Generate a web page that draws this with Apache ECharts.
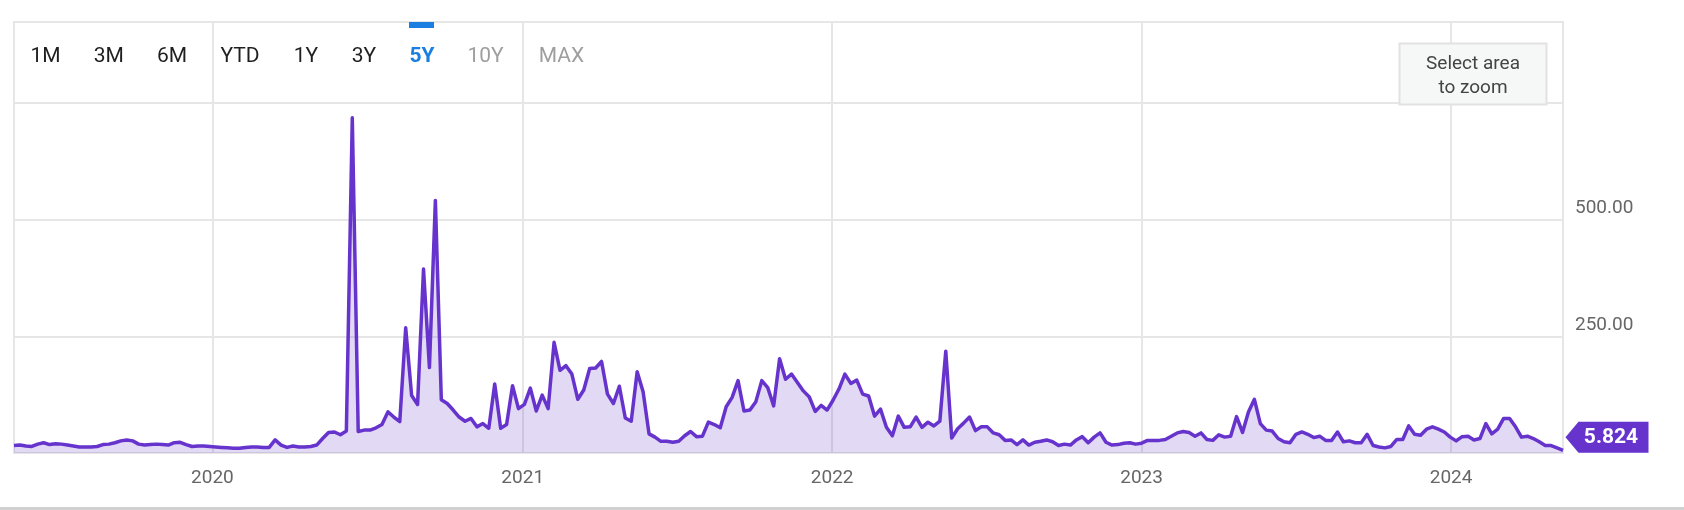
<!DOCTYPE html>
<html>
<head>
<meta charset="utf-8">
<script src="https://cdn.jsdelivr.net/npm/echarts@6/dist/echarts.min.js"></script>
<style>
html,body{margin:0;padding:0;background:#fff;}
#c{width:1684px;height:510px;}
</style>
</head>
<body>
<div id="c"></div>
<script>
// ---- data ----
const startDate = '2019-05-12';
const endDate = '2024-05-12';
const values = [
  16,17,15,14,19,22,18,20,19,17,15,13,13,13,14,18,19,22,26,28,
  26,19,17,18,19,18,17,22,23,18,14,15,15,14,13,12,11,10,10,12,
  13,13,12,12,28,17,12,15,13,13,14,17,31,44,45,39,47,718,46,49,
  49,54,61,88,77,67,268,123,104,394,183,541,114,106,92,77,68,74,56,63,
  53,148,53,61,144,95,104,139,90,124,95,237,177,187,169,115,135,181,182,196,
  126,106,143,75,68,174,131,41,34,25,25,23,25,37,46,35,36,66,61,54,
  99,119,155,90,92,110,155,140,101,202,158,169,151,133,120,89,102,92,113,137,
  169,149,156,126,122,79,94,55,37,79,55,56,77,55,66,58,68,218,32,52,
  64,77,48,56,56,43,39,27,28,18,28,17,23,25,28,24,16,19,17,28,
  35,22,34,43,23,17,18,21,22,19,21,27,27,27,29,36,43,46,44,36,
  43,29,27,39,34,36,78,44,88,115,63,49,47,31,24,22,40,45,40,33,
  36,27,27,45,24,26,22,22,40,16,13,11,14,29,29,58,40,38,51,56,
  51,45,34,26,35,36,28,31,63,41,51,74,74,56,34,36,31,24,16,16,
  11,5.824
];
const yearTicks = [2020, 2021, 2022, 2023, 2024];
const yTickLabels = [250, 500];
const rangeButtons = ['1M','3M','6M','YTD','1Y','3Y','5Y','10Y','MAX'];
const activeButton = '5Y';
const disabledButtons = ['10Y','MAX'];
const zoomHint = 'Select area\nto zoom';

// weekly sampling dates
function fmt(d){const m=d.getMonth()+1, dd=d.getDate();return d.getFullYear()+'-'+(m<10?'0':'')+m+'-'+(dd<10?'0':'')+dd;}
const dates = [];
(function(){const p=startDate.split('-').map(Number);const d=new Date(p[0],p[1]-1,p[2]);for(let i=0;i<values.length;i++){dates.push(fmt(d));d.setDate(d.getDate()+7);}})();
const lastIdx = values.length - 1;

// ---- layout (not data) ----
const buttonX = [45.5,108.7,172,240,306,364,422,485.6,561.5];
const PURPLE = '#6633cc';
const GRIDC = '#e6e6e6';

const chart = echarts.init(document.getElementById('c'), null, {renderer:'canvas'});

const graphics = [];
rangeButtons.forEach((b,i)=>{
  const active = b===activeButton, dis = disabledButtons.includes(b);
  graphics.push({type:'text', x:buttonX[i], y:57, z:50, style:{
    text:b, fontFamily:'Roboto', fontSize:21, fontWeight: active?'bold':'normal',
    fill: active?'#1a7fe0':(dis?'#9e9e9e':'#1f1f1f'), align:'center', verticalAlign:'middle'}});
});
graphics.push({type:'rect', z:50, shape:{x:409,y:22,width:25,height:6}, style:{fill:'#1a7fe0'}});
graphics.push({type:'rect', z:100, shape:{x:1399.5,y:43.5,width:147,height:61}, style:{fill:'#f6f7f7', stroke:'#e2e2e2', lineWidth:2}});
graphics.push({type:'text', z:101, x:1473, y:76, style:{text:zoomHint, fontFamily:'Roboto', fontSize:19, lineHeight:24, fill:'#444', align:'center', verticalAlign:'middle'}});
graphics.push({type:'rect', z:50, shape:{x:0,y:507,width:1684,height:3}, style:{fill:'#d0d0d0'}});

chart.setOption({
  animation:false,
  backgroundColor:'#fff',
  grid:{left:14, right:121, top:22, bottom:57, show:true, borderColor:GRIDC, borderWidth:2, backgroundColor:'transparent'},
  xAxis:{
    type:'time', min:startDate, max:endDate, splitNumber:5,
    minInterval: 360*86400000,
    axisLine:{show:true, lineStyle:{color:GRIDC, width:2}},
    axisTick:{show:false},
    splitLine:{show:true, lineStyle:{color:GRIDC, width:2}},
    axisLabel:{color:'#666', fontFamily:'Roboto', fontSize:19, margin:16, showMinLabel:false, showMaxLabel:false,
      formatter:function(v){const d=new Date(v);const y=d.getFullYear();return (d.getMonth()===0&&d.getDate()===1&&yearTicks.includes(y))?String(y):'';}}
  },
  yAxis:{
    type:'value', position:'right', min:0, max:923, interval:250,
    axisLine:{show:false}, axisTick:{show:false},
    splitLine:{show:true, lineStyle:{color:GRIDC, width:2}},
    axisLabel:{color:'#666', fontFamily:'Roboto', fontSize:19, margin:12, align:'left', verticalAlign:'bottom', padding:[0,0,2,0],
      formatter:function(v){return yTickLabels.includes(v)?v.toFixed(2):'';}}
  },
  series:[{
    type:'line', silent:true, showSymbol:false, symbol:'none',
    data: dates.map((d,i)=>[d, values[i]]),
    lineStyle:{color:PURPLE, width:3.5, join:'round'},
    areaStyle:{color:'rgba(102,51,204,0.27)', origin:'start'},
    markPoint:{
      silent:true,
      symbol:'path://M0,15.5L13,0L83,0L83,31L13,31Z',
      symbolSize:[83,31], symbolKeepAspect:false, symbolOffset:[44,-13],
      itemStyle:{color:PURPLE},
      label:{show:true, position:'inside', offset:[4,0], color:'#fff', fontFamily:'Roboto', fontSize:21, fontWeight:'bold',
        formatter:function(p){return p.value.toFixed(3);}},
      data:[{coord:[dates[lastIdx], values[lastIdx]], value:values[lastIdx]}]
    }
  }],
  graphic: graphics
});
</script>
</body>
</html>
